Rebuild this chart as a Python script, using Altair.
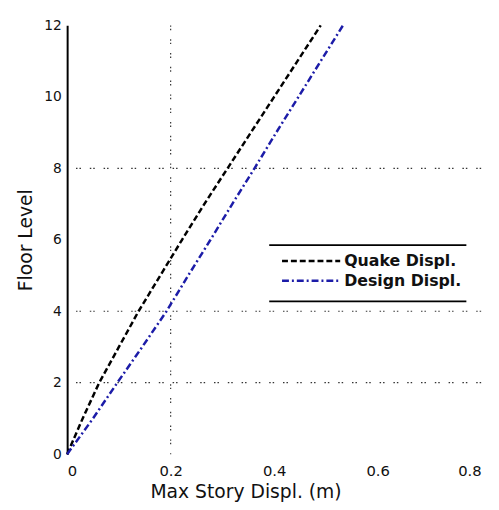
import altair as alt
import pandas as pd

floors = list(range(13))
quake = [0, 0.03, 0.062, 0.10, 0.138, 0.18, 0.222, 0.265, 0.31, 0.355, 0.40, 0.445, 0.49]
design = [0, 0.05, 0.097, 0.145, 0.192, 0.234, 0.277, 0.319, 0.362, 0.404, 0.447, 0.49, 0.533]
series = ["Quake Displ.", "Design Displ."]
hgrid = [2, 4, 8]
vgrid = [0.2]

df = pd.DataFrame({
    "floor": floors * 2,
    "disp": quake + design,
    "series": [series[0]] * 13 + [series[1]] * 13,
})

xs = alt.Scale(domain=[0, 0.8], nice=False, zero=False)
ys = alt.Scale(domain=[0, 12], nice=False, zero=False)
cscale = alt.Scale(domain=series, range=["#000000", "#1c1ca8"])
dscale = alt.Scale(domain=series, range=[[6, 3], [7, 3, 2, 3]])

FONT = "DejaVu Sans"

xaxis = alt.Axis(values=[0, 0.2, 0.4, 0.6, 0.8], format=".1~f", domain=False, ticks=False,
                 grid=False, labelFontSize=15, labelColor="#111", labelPadding=10,
                 title="Max Story Displ. (m)", titleFontSize=19, titleFontWeight="normal",
                 titleColor="#111", titlePadding=4, titleX=181,
                 labelFont=FONT, titleFont=FONT)
yaxis = alt.Axis(values=[0, 2, 4, 6, 8, 10, 12], domain=True, domainColor="black", domainWidth=2,
                 ticks=False, grid=False, labelFontSize=14, labelColor="#111", labelPadding=6,
                 title="Floor Level", titleFontSize=19, titleFontWeight="normal", titleColor="#111",
                 titlePadding=8, labelFont=FONT, titleFont=FONT)

hg = alt.Chart(pd.DataFrame({"y": hgrid})).mark_rule(
    color="#333", strokeDash=[1.5, 2, 1.5, 9], strokeWidth=1.2
).encode(y=alt.Y("y:Q", scale=ys, axis=yaxis))

vg = alt.Chart(pd.DataFrame({"x": vgrid})).mark_rule(
    color="#333", strokeDash=[1.5, 2, 1.5, 9], strokeWidth=1.2
).encode(x=alt.X("x:Q", scale=xs, axis=xaxis))

lines = alt.Chart(df).mark_line(strokeWidth=2.5).encode(
    x=alt.X("disp:Q", scale=xs, axis=xaxis),
    y=alt.Y("floor:Q", scale=ys, axis=yaxis),
    color=alt.Color("series:N", scale=cscale, legend=None),
    strokeDash=alt.StrokeDash("series:N", scale=dscale, legend=None),
    order="floor:Q",
)

layers = [hg, vg, lines]

# custom legend: box with top and bottom rules only
for yy in (223, 280):
    layers.append(
        alt.Chart(pd.DataFrame({"k": [0]})).mark_rule(color="black", strokeWidth=1.8).encode(
            x=alt.value(205), x2=alt.value(405), y=alt.value(yy)
        )
    )

leg = pd.DataFrame({"series": series})
for i, s in enumerate(series):
    ypix = 239 + 20 * i
    sub = alt.Chart(leg).transform_filter(alt.datum.series == s)
    layers.append(sub.mark_rule(strokeWidth=2.5).encode(
        x=alt.value(218), x2=alt.value(277), y=alt.value(ypix),
        color=alt.Color("series:N", scale=cscale, legend=None),
        strokeDash=alt.StrokeDash("series:N", scale=dscale, legend=None),
    ))
    layers.append(sub.mark_text(align="left", baseline="middle", fontSize=16, font=FONT,
                                fontWeight="bold", color="#111").encode(
        x=alt.value(281), y=alt.value(ypix), text="series:N",
    ))

chart = alt.layer(*layers).properties(
    width=420, height=435,
    autosize=alt.AutoSizeParams(type="none"),
    padding={"left": 60, "top": 14, "right": 10, "bottom": 52},
    background="white",
).configure_view(stroke=None)

chart.save("out.html", embed_options={"renderer": "svg", "actions": False})
